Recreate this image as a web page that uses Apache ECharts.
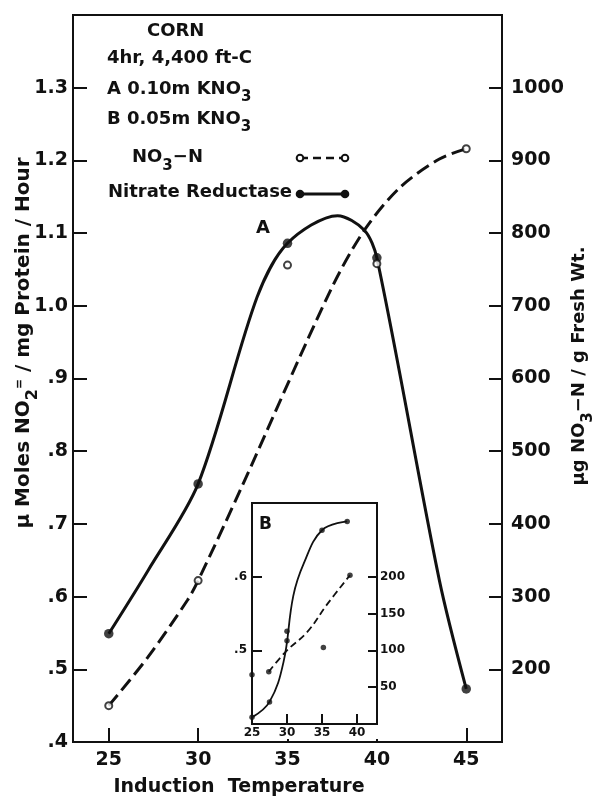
<!DOCTYPE html>
<html>
<head>
<meta charset="utf-8">
<title>Corn - nitrate reductase vs induction temperature</title>
<script src="https://cdn.jsdelivr.net/npm/echarts@6.0.0/dist/echarts.min.js"></script>
<style>
    html, body { margin: 0; padding: 0; background: #fff; }
    #chart { width: 598px; height: 796px; }
</style>
</head>
<body>
<div id="chart"></div>
<script>
// ---- panel A (0.10m KNO3) ----
var tempA = [25, 30, 35, 40, 45];
var reductaseA = [0.549, 0.755, 1.086, 1.066, 0.473];   // left axis
var nitrateA = [150, 322, 756, 758, 916];               // right axis
// points along the hand drawn curves
var reductaseCurveA = [[25, 0.549], [27.2, 0.636], [30, 0.755], [33.3, 1.012], [35, 1.086],
    [37.8, 1.124], [39.3, 1.104], [40, 1.066], [43.5, 0.622], [45, 0.473]];
var nitrateCurveA = [[25, 150], [27.2, 217], [29.4, 295], [30, 322], [32.35, 446],
    [37.4, 721], [39.3, 804], [41.3, 863], [43.5, 902], [45, 916]];

// ---- inset B (0.05m KNO3) ----
var reductaseB = [[25, 0.409], [27.5, 0.43], [30, 0.526], [35, 0.663], [38.6, 0.675]];
var nitrateB = [[25, 67], [27.4, 71], [30, 113], [35.2, 104], [39, 202]];
var reductaseCurveB = [[25, 0.409], [27.5, 0.43], [29.5, 0.484], [30.9, 0.574], [32.4, 0.618],
    [35, 0.663], [38.6, 0.675]];
var nitrateCurveB = [[27.4, 71], [29.9, 99], [32.9, 125], [35.7, 162], [39, 202]];

// ---- ticks ----
var xTicksA = [25, 30, 35, 40, 45];
var leftTicksA = [0.4, 0.5, 0.6, 0.7, 0.8, 0.9, 1.0, 1.1, 1.2, 1.3];
var rightTicksA = [200, 300, 400, 500, 600, 700, 800, 900, 1000];
var xLabelsB = [25, 30, 35, 40];
var xTicksB = [30, 35, 40];
var leftTicksB = [0.5, 0.6];
var rightTicksB = [50, 100, 150, 200];

var FONT = '"DejaVu Sans", sans-serif';
var INK = '#111';

function decimal(v) {
    var s = v.toFixed(1);
    return s.charAt(0) === '0' ? s.slice(1) : s;
}
function plain(v) { return String(v); }

function axisFont(size) {
    return { color: INK, fontFamily: FONT, fontWeight: 'bold', fontSize: size };
}

function tok(size, lh, va) {
    return { fontSize: size, fontWeight: 'bold', fontFamily: FONT, fill: INK, lineHeight: lh, verticalAlign: va };
}
// notes: subscript sits ~6px below the capitals
var rich = { n: tok(18, 20, 'top'), s: tok(15, 25, 'bottom') };
// axis titles
var richBig = { n: tok(20, 22, 'top'), s: tok(16, 27, 'bottom'), p: tok(12, 12, 'top') };
var richMid = { n: tok(18, 20, 'top'), s: tok(15, 25, 'bottom') };

function note(x, y, text) {
    return { type: 'text', x: x, y: y, z: 10,
        style: { text: text, rich: rich, align: 'left', verticalAlign: 'top' } };
}

var myChart = echarts.init(document.getElementById('chart'));

var option = {
    animation: false,
    backgroundColor: '#fff',
    grid: [
        { left: 73, right: 96, top: 15, bottom: 54, show: true, borderColor: INK, borderWidth: 2 },
        { left: 252, top: 503, width: 125, height: 221, show: true, borderColor: INK, borderWidth: 2, z: 4 }
    ],
    xAxis: [
        {
            type: 'value', gridIndex: 0, min: 23, max: 47,
            axisLine: { onZero: false, lineStyle: { color: INK, width: 2 } },
            axisTick: { inside: true, length: 14, customValues: xTicksA, lineStyle: { color: INK, width: 2 } },
            axisLabel: Object.assign({ margin: 9, customValues: xTicksA, formatter: plain }, axisFont(19)),
            splitLine: { show: false }
        },
        {
            type: 'value', gridIndex: 1, min: 25, max: 42.86, z: 4,
            axisLine: { onZero: false, lineStyle: { color: INK, width: 2 } },
            axisTick: { inside: true, length: 10, customValues: xTicksB, lineStyle: { color: INK, width: 2 } },
            axisLabel: Object.assign({ margin: 3, customValues: xLabelsB, formatter: plain }, axisFont(12)),
            splitLine: { show: false }
        }
    ],
    yAxis: [
        {
            type: 'value', gridIndex: 0, min: 0.4, max: 1.4, position: 'left',
            axisLine: { onZero: false, lineStyle: { color: INK, width: 2 } },
            axisTick: { inside: true, length: 14, customValues: leftTicksA, lineStyle: { color: INK, width: 2 } },
            axisLabel: Object.assign({ margin: 5, customValues: leftTicksA, formatter: decimal }, axisFont(19)),
            splitLine: { show: false }
        },
        {
            type: 'value', gridIndex: 0, min: 100, max: 1100, position: 'right',
            axisLine: { onZero: false, lineStyle: { color: INK, width: 2 } },
            axisTick: { inside: true, length: 13, customValues: rightTicksA, lineStyle: { color: INK, width: 2 } },
            axisLabel: Object.assign({ margin: 9, customValues: rightTicksA, formatter: plain }, axisFont(19)),
            splitLine: { show: false }
        },
        {
            type: 'value', gridIndex: 1, min: 0.4, max: 0.7, position: 'left', z: 4,
            axisLine: { onZero: false, lineStyle: { color: INK, width: 2 } },
            axisTick: { inside: true, length: 10, customValues: leftTicksB, lineStyle: { color: INK, width: 2 } },
            axisLabel: Object.assign({ margin: 5, customValues: leftTicksB, formatter: decimal }, axisFont(12)),
            splitLine: { show: false }
        },
        {
            type: 'value', gridIndex: 1, min: 0, max: 300, position: 'right', z: 4,
            axisLine: { onZero: false, lineStyle: { color: INK, width: 2 } },
            axisTick: { inside: true, length: 9, customValues: rightTicksB, lineStyle: { color: INK, width: 2 } },
            axisLabel: Object.assign({ margin: 3, customValues: rightTicksB, formatter: plain }, axisFont(12)),
            splitLine: { show: false }
        }
    ],
    series: [
        {
            name: 'Nitrate Reductase', type: 'line', xAxisIndex: 0, yAxisIndex: 0,
            data: reductaseCurveA, smooth: 0.3, showSymbol: false, clip: false,
            lineStyle: { color: INK, width: 3 }
        },
        {
            name: 'Nitrate Reductase pts', type: 'scatter', xAxisIndex: 0, yAxisIndex: 0,
            data: tempA.map(function (t, i) { return [t, reductaseA[i]]; }),
            symbol: 'circle', symbolSize: 9.5, clip: false, itemStyle: { color: INK }
        },
        {
            name: 'NO3-N', type: 'line', xAxisIndex: 0, yAxisIndex: 1,
            data: nitrateCurveA, smooth: 0.3, showSymbol: false, clip: false,
            lineStyle: { color: INK, width: 3, type: [14, 6] }
        },
        {
            name: 'NO3-N pts', type: 'scatter', xAxisIndex: 0, yAxisIndex: 1,
            data: tempA.map(function (t, i) { return [t, nitrateA[i]]; }),
            symbol: 'circle', symbolSize: 7, clip: false, z: 3,
            itemStyle: { color: '#fff', borderColor: INK, borderWidth: 2 }
        },
        {
            name: 'B reductase', type: 'line', xAxisIndex: 1, yAxisIndex: 2, z: 5,
            data: reductaseCurveB, smooth: 0.4, showSymbol: false, clip: false,
            lineStyle: { color: INK, width: 1.8 }
        },
        {
            name: 'B reductase pts', type: 'scatter', xAxisIndex: 1, yAxisIndex: 2, z: 6,
            data: reductaseB, symbol: 'circle', symbolSize: 5.5, clip: false, itemStyle: { color: INK }
        },
        {
            name: 'B nitrate', type: 'line', xAxisIndex: 1, yAxisIndex: 3, z: 5,
            data: nitrateCurveB, smooth: 0.4, showSymbol: false, clip: false,
            lineStyle: { color: INK, width: 1.8, type: [7, 4] }
        },
        {
            name: 'B nitrate pts', type: 'scatter', xAxisIndex: 1, yAxisIndex: 3, z: 6,
            data: nitrateB, symbol: 'circle', symbolSize: 5.5, clip: false, itemStyle: { color: INK }
        }
    ],
    graphic: [
        // white backing for the inset (hides the main axis tick behind it)
        { type: 'rect', z: 3, shape: { x: 234, y: 500, width: 170, height: 239 }, style: { fill: '#fff' } },

        note(147, 22, '{n|CORN}'),
        note(107, 49, '{n|4hr, 4,400 ft-C}'),
        note(107, 80, '{n|A 0.10m KNO}{s|3}'),
        note(107, 110, '{n|B 0.05m KNO}{s|3}'),
        note(132, 148.5, '{n|NO}{s|3}{n|\u2212N}'),
        note(108, 183.5, '{n|Nitrate Reductase}'),
        note(256, 219, '{n|A}'),
        { type: 'text', x: 259, y: 516, z: 10,
            style: { text: 'B', fill: INK, fontFamily: FONT, fontWeight: 'bold', fontSize: 17,
                align: 'left', verticalAlign: 'top' } },

        // legend samples
        { type: 'line', z: 10, shape: { x1: 300, y1: 158, x2: 345, y2: 158 },
            style: { stroke: INK, lineWidth: 2.5, lineDash: [8, 5] } },
        { type: 'circle', z: 11, shape: { cx: 300, cy: 158, r: 3.3 }, style: { fill: '#fff', stroke: INK, lineWidth: 2 } },
        { type: 'circle', z: 11, shape: { cx: 345, cy: 158, r: 3.3 }, style: { fill: '#fff', stroke: INK, lineWidth: 2 } },
        { type: 'line', z: 10, shape: { x1: 300, y1: 194, x2: 345, y2: 194 },
            style: { stroke: INK, lineWidth: 3 } },
        { type: 'circle', z: 11, shape: { cx: 300, cy: 194, r: 4.3 }, style: { fill: INK } },
        { type: 'circle', z: 11, shape: { cx: 345, cy: 194, r: 4.3 }, style: { fill: INK } },

        // axis titles
        { type: 'text', x: 239, y: 787, z: 10,
            style: { text: 'Induction  Temperature', fill: INK, fontFamily: FONT, fontWeight: 'bold',
                fontSize: 19, align: 'center', verticalAlign: 'middle' } },
        { type: 'text', x: 27, y: 343, rotation: Math.PI / 2, z: 10,
            style: { text: '{n|\u03bc Moles NO}{s|2}{p|=}{n| / mg Protein / Hour}', rich: richBig,
                align: 'center', verticalAlign: 'middle' } },
        { type: 'text', x: 583, y: 366, rotation: Math.PI / 2, z: 10,
            style: { text: '{n|\u03bcg NO}{s|3}{n|\u2212N / g Fresh Wt.}', rich: richMid,
                align: 'center', verticalAlign: 'middle' } }
    ]
};

myChart.setOption(option);
</script>
</body>
</html>
